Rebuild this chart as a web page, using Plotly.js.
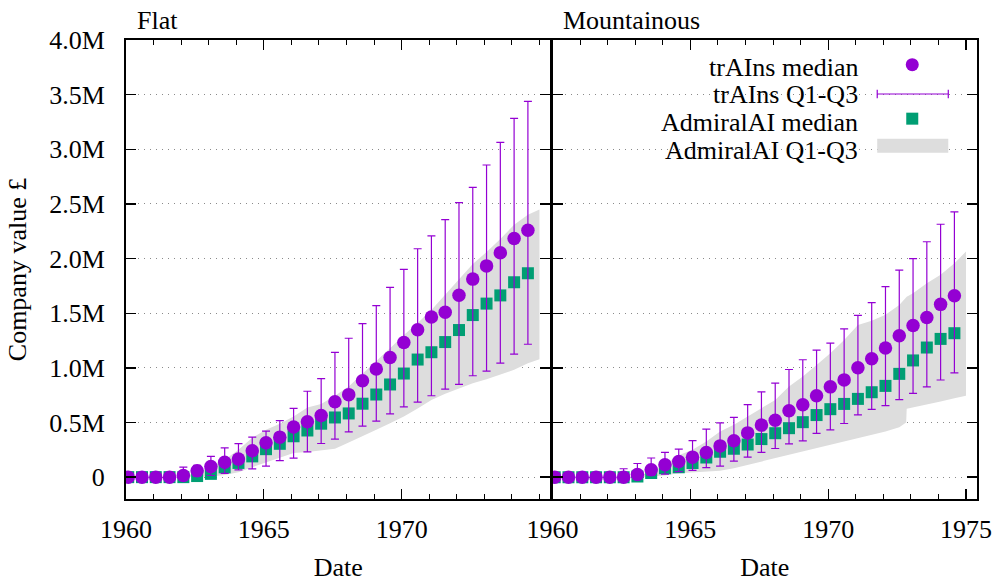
<!DOCTYPE html>
<html>
<head>
<meta charset="utf-8">
<script src="https://cdn.plot.ly/plotly-3.0.1.min.js"></script>
<style>
  html, body { margin: 0; padding: 0; background: #ffffff; }
  #chart { width: 995px; height: 582px; }
</style>
</head>
<body>
<div id="chart"></div>
<script>
// ---------------- DATA (values in millions of £) ----------------
const dates = [1960.08, 1960.58, 1961.08, 1961.58, 1962.08, 1962.58, 1963.08, 1963.58, 1964.08, 1964.58,
               1965.08, 1965.58, 1966.08, 1966.58, 1967.08, 1967.58, 1968.08, 1968.58, 1969.08, 1969.58,
               1970.08, 1970.58, 1971.08, 1971.58, 1972.08, 1972.58, 1973.08, 1973.58, 1974.08, 1974.58];

// Flat
const trainsMedianFlat = [0, 0, 0, 0, 0.015, 0.058, 0.098, 0.137, 0.165, 0.242,
                          0.315, 0.366, 0.458, 0.507, 0.564, 0.690, 0.755, 0.882, 0.989, 1.094,
                          1.232, 1.348, 1.465, 1.509, 1.665, 1.812, 1.933, 2.053, 2.184, 2.260];
const trainsQ1Flat = [0, 0, 0, 0, 0, 0.010, 0.015, 0.034, 0.067, 0.076,
                      0.101, 0.152, 0.174, 0.232, 0.308, 0.348, 0.415, 0.466, 0.512, 0.579,
                      0.643, 0.686, 0.745, 0.805, 0.848, 0.928, 0.970, 1.043, 1.125, 1.216];
const trainsQ3Flat = [0, 0, 0, 0, 0.091, 0.108, 0.190, 0.268, 0.306, 0.367,
                      0.421, 0.518, 0.630, 0.786, 0.901, 1.142, 1.271, 1.404, 1.570, 1.737,
                      1.902, 2.090, 2.208, 2.357, 2.512, 2.651, 2.856, 3.063, 3.283, 3.438];
const admiralMedianFlat = [0, 0, 0, 0, 0, 0.010, 0.030, 0.090, 0.130, 0.190,
                           0.256, 0.305, 0.374, 0.427, 0.489, 0.546, 0.583, 0.672, 0.756, 0.848,
                           0.948, 1.076, 1.143, 1.236, 1.346, 1.483, 1.588, 1.663, 1.784, 1.866];
const admiralBandXFlat = [1961.58, 1962.08, 1962.58, 1963.08, 1963.58, 1964.08, 1964.58,
                          1965.08, 1965.58, 1966.08, 1966.58, 1967.08, 1967.58, 1968.08, 1968.58, 1969.08, 1969.58,
                          1970.08, 1970.58, 1971.08, 1971.58, 1972.08, 1972.58, 1973.08, 1973.58, 1974.08, 1974.58, 1975.0];
const admiralQ1Flat = [0, 0, 0, 0.005, 0.020, 0.045, 0.091,
                       0.134, 0.183, 0.220, 0.229, 0.241, 0.259, 0.317, 0.372, 0.433, 0.494,
                       0.555, 0.628, 0.707, 0.762, 0.814, 0.860, 0.896, 0.936, 0.982, 1.043, 1.079];
const admiralQ3Flat = [0, 0.010, 0.040, 0.100, 0.160, 0.250, 0.360,
                       0.433, 0.488, 0.555, 0.637, 0.670, 0.744, 0.829, 0.945, 1.058, 1.180,
                       1.300, 1.410, 1.530, 1.670, 1.810, 1.950, 2.060, 2.180, 2.310, 2.400, 2.450];

// Mountainous
const trainsMedianMtn = [0, 0, 0, 0, 0, 0, 0.024, 0.067, 0.113, 0.143,
                         0.183, 0.225, 0.286, 0.333, 0.405, 0.476, 0.521, 0.607, 0.662, 0.744,
                         0.826, 0.890, 1.001, 1.083, 1.181, 1.293, 1.387, 1.460, 1.581, 1.659];
const trainsQ1Mtn = [0, 0, 0, 0, 0, 0, 0, 0.015, 0.027, 0.050,
                     0.062, 0.088, 0.100, 0.146, 0.183, 0.226, 0.262, 0.305, 0.331, 0.401,
                     0.432, 0.491, 0.570, 0.621, 0.654, 0.709, 0.766, 0.826, 0.889, 0.954];
const trainsQ3Mtn = [0, 0, 0, 0, 0, 0.077, 0.125, 0.175, 0.226, 0.257,
                     0.335, 0.440, 0.497, 0.546, 0.663, 0.780, 0.860, 0.985, 1.074, 1.163,
                     1.226, 1.357, 1.481, 1.596, 1.744, 1.895, 1.999, 2.154, 2.314, 2.427];
const admiralMedianMtn = [0, 0, 0, 0, 0, 0, 0.006, 0.037, 0.082, 0.090,
                          0.130, 0.180, 0.233, 0.260, 0.299, 0.348, 0.402, 0.448, 0.503, 0.568,
                          0.622, 0.670, 0.716, 0.777, 0.835, 0.945, 1.068, 1.186, 1.265, 1.317];
const admiralBandXMtn = [1963.08, 1963.58, 1964.08, 1964.58,
                         1965.08, 1965.58, 1966.08, 1966.58, 1967.08, 1967.58, 1968.08, 1968.58, 1969.08, 1969.58,
                         1970.08, 1970.58, 1971.08, 1971.58, 1972.08, 1972.58, 1972.83, 1972.85,
                         1973.08, 1973.58, 1974.08, 1974.58, 1975.0];
const admiralQ1Mtn = [0, 0.005, 0.015, 0.035,
                      0.043, 0.049, 0.058, 0.082, 0.113, 0.143, 0.174, 0.204, 0.235, 0.265,
                      0.296, 0.326, 0.357, 0.387, 0.418, 0.457, 0.500, 0.625,
                      0.637, 0.662, 0.692, 0.723, 0.744];
const admiralQ3Mtn = [0.010, 0.050, 0.120, 0.200,
                      0.250, 0.326, 0.418, 0.479, 0.555, 0.631, 0.707, 0.829, 0.921, 1.027,
                      1.134, 1.256, 1.393, 1.430, 1.485, 1.576, 1.640, 1.650,
                      1.683, 1.774, 1.851, 1.957, 2.064];

const yTickVals = [0, 0.5, 1.0, 1.5, 2.0, 2.5, 3.0, 3.5, 4.0];
const yTickText = ['0', '0.5M', '1.0M', '1.5M', '2.0M', '2.5M', '3.0M', '3.5M', '4.0M'];
const xTickValsFlat = [1960, 1965, 1970];
const xTickValsMtn = [1960, 1965, 1970, 1975];
const panelTitles = ['Flat', 'Mountainous'];
const legendLabels = ['trAIns median', 'trAIns Q1-Q3', 'AdmiralAI median', 'AdmiralAI Q1-Q3'];

// ---------------- STYLE ----------------
const VIOLET = '#9400d3';
const GREEN = '#009e73';
const BAND = '#dddddd';
const FONT = 'Liberation Serif, Times New Roman, serif';
const FS = 26;

const W = 995, H = 582;
const ML = 126.3, MR = 18.3, MT = 40.3, MB = 82.5;
const PW = W - ML - MR, PH = H - MT - MB;
const px = v => (v - ML) / PW;
const py = v => (H - MB - v) / PH;
const GAP = 2 / PW; // so the two panels' border lines coincide

function diff(a, b) { return a.map((v, i) => v - b[i]); }

function panelTraces(xa, ya, bandX, bq1, bq3, adm, tMed, tQ1, tQ3) {
  return [
    { x: bandX, y: bq1, xaxis: xa, yaxis: ya, type: 'scatter', mode: 'lines',
      line: { width: 0, color: BAND }, hoverinfo: 'skip', showlegend: false },
    { x: bandX, y: bq3, xaxis: xa, yaxis: ya, type: 'scatter', mode: 'lines',
      line: { width: 0, color: BAND }, fill: 'tonexty', fillcolor: BAND,
      name: legendLabels[3], showlegend: false },
    { x: dates, y: adm, xaxis: xa, yaxis: ya, type: 'scatter', mode: 'markers',
      marker: { symbol: 'square', size: 12, color: GREEN, line: { width: 0 } },
      name: legendLabels[2], showlegend: false },
    { x: dates, y: tMed, xaxis: xa, yaxis: ya, type: 'scatter', mode: 'markers',
      marker: { size: 0.1, color: 'rgba(0,0,0,0)' },
      error_y: { type: 'data', symmetric: false, array: diff(tQ3, tMed), arrayminus: diff(tMed, tQ1),
                 color: VIOLET, thickness: 1.2, width: 4 },
      name: legendLabels[1], showlegend: false },
    { x: dates, y: tMed, xaxis: xa, yaxis: ya, type: 'scatter', mode: 'markers',
      marker: { symbol: 'circle', size: 13.5, color: VIOLET, line: { width: 0 } },
      name: legendLabels[0], showlegend: false }
  ];
}

const data = [].concat(
  panelTraces('x', 'y', admiralBandXFlat, admiralQ1Flat, admiralQ3Flat, admiralMedianFlat,
              trainsMedianFlat, trainsQ1Flat, trainsQ3Flat),
  panelTraces('x2', 'y2', admiralBandXMtn, admiralQ1Mtn, admiralQ3Mtn, admiralMedianMtn,
              trainsMedianMtn, trainsQ1Mtn, trainsQ3Mtn)
);

function xAxis(domain, anchor, tickvals) {
  return {
    domain: domain, anchor: anchor, range: [1960, 1975.4],
    tickmode: 'array', tickvals: tickvals, ticktext: tickvals.map(String),
    ticks: 'inside', ticklen: 10, tickwidth: 1.3, tickcolor: '#000',
    minor: { tickmode: 'linear', tick0: 1960, dtick: 1, ticks: 'inside', ticklen: 5, tickwidth: 1, tickcolor: '#000' },
    mirror: 'ticks', showline: true, linecolor: '#000', linewidth: 2,
    showgrid: false, zeroline: false, fixedrange: true,
    tickfont: { family: FONT, size: FS, color: '#000' },
    ticklabelstandoff: 6,
    title: { text: 'Date', font: { family: FONT, size: FS, color: '#000' }, standoff: 23 },
    automargin: false
  };
}
function yAxis(anchor, showLabels) {
  return {
    domain: [0, 1], anchor: anchor, range: [-0.2, 4.0],
    tickmode: 'array', tickvals: yTickVals, ticktext: yTickText,
    showticklabels: showLabels,
    ticks: 'inside', ticklen: 10, tickwidth: 1.3, tickcolor: '#000',
    mirror: 'ticks', showline: true, linecolor: '#000', linewidth: 2,
    showgrid: true, gridcolor: '#8a8a8a', gridwidth: 1, griddash: '1px,5px',
    zeroline: false, fixedrange: true,
    tickfont: { family: FONT, size: FS, color: '#000' },
    ticklabelstandoff: 14,
    title: showLabels ? { text: 'Company value £', font: { family: FONT, size: FS, color: '#000' }, standoff: 15 } : { text: '' },
    automargin: false
  };
}

const legendRows = [66.7, 94.3, 122.3, 149.5];
const textRight = 860;
const symX = 912;

const annotations = [
  { text: panelTitles[0], xref: 'paper', yref: 'paper', x: px(135), y: py(21), xanchor: 'left', yanchor: 'middle',
    showarrow: false, font: { family: FONT, size: FS, color: '#000' } },
  { text: panelTitles[1], xref: 'paper', yref: 'paper', x: px(561), y: py(21), xanchor: 'left', yanchor: 'middle',
    showarrow: false, font: { family: FONT, size: FS, color: '#000' } }
].concat(legendLabels.map((t, i) => ({
  text: t, xref: 'paper', yref: 'paper', x: px(textRight), y: py(legendRows[i] + 1), xanchor: 'right', yanchor: 'middle',
  showarrow: false, font: { family: FONT, size: FS, color: '#000' }
})));

const shapes = [
  // circle marker sample
  { type: 'circle', xref: 'paper', yref: 'paper', x0: px(symX - 6.5), x1: px(symX + 6.5),
    y0: py(65 + 6.5), y1: py(65 - 6.5), fillcolor: VIOLET, line: { width: 0 } },
  // error bar sample
  { type: 'line', xref: 'paper', yref: 'paper', x0: px(877), x1: px(948), y0: py(94.3), y1: py(94.3),
    line: { color: VIOLET, width: 1.2 } },
  { type: 'line', xref: 'paper', yref: 'paper', x0: px(877), x1: px(877), y0: py(90), y1: py(98.6),
    line: { color: VIOLET, width: 1.2 } },
  { type: 'line', xref: 'paper', yref: 'paper', x0: px(948), x1: px(948), y0: py(90), y1: py(98.6),
    line: { color: VIOLET, width: 1.2 } },
  // square sample
  { type: 'rect', xref: 'paper', yref: 'paper', x0: px(symX - 6), x1: px(symX + 6),
    y0: py(119 + 6), y1: py(119 - 6), fillcolor: GREEN, line: { width: 0 } },
  // band sample
  { type: 'rect', xref: 'paper', yref: 'paper', x0: px(877), x1: px(948),
    y0: py(153), y1: py(139), fillcolor: BAND, line: { width: 0 } }
];

const layout = {
  width: W, height: H,
  margin: { l: ML, r: MR, t: MT, b: MB, pad: 0 },
  paper_bgcolor: '#ffffff', plot_bgcolor: '#ffffff',
  font: { family: FONT, size: FS, color: '#000' },
  showlegend: false,
  xaxis: xAxis([0, 0.5 - GAP / 2], 'y', xTickValsFlat),
  xaxis2: xAxis([0.5 + GAP / 2, 1], 'y2', xTickValsMtn),
  yaxis: yAxis('x', true),
  yaxis2: yAxis('x2', false),
  annotations: annotations,
  shapes: shapes,
  hovermode: false
};

Plotly.newPlot('chart', data, layout, { displayModeBar: false, staticPlot: true });
</script>
</body>
</html>
